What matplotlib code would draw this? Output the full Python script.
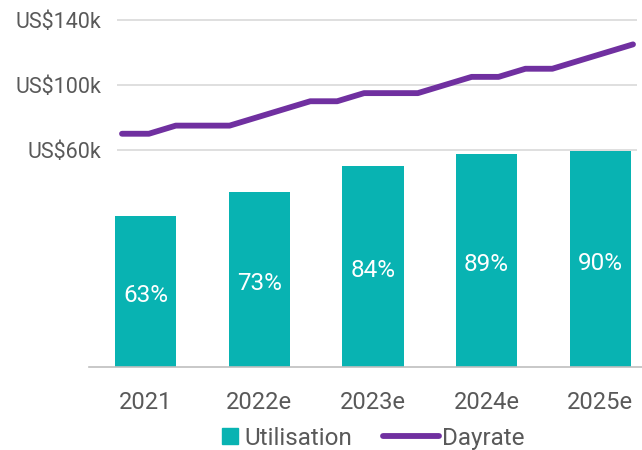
import matplotlib.pyplot as plt
from matplotlib.lines import Line2D

years = ['2021', '2022e', '2023e', '2024e', '2025e']
utilisation = [63, 73, 84, 89, 90]
# quarterly dayrate, US$k (2021 Q1 .. 2025 Q4)
dayrate = [70, 70, 75, 75, 75, 80, 85, 90, 90, 95,
           95, 95, 100, 105, 105, 110, 110, 115, 120, 125]
dayrate_ticks = [60, 100, 140]

teal = '#08B3B2'
purple = '#7030A0'
grey_text = '#595959'

plt.rcParams['font.family'] = ['Roboto', 'DejaVu Sans']

W, H = 642, 450
fig = plt.figure(figsize=(W / 100, H / 100), dpi=100)


def box(x0, x1, ytop, ybot):
    # pixel box -> figure fraction
    return [x0 / W, 1 - ybot / H, (x1 - x0) / W, (ybot - ytop) / H]


# bars (utilisation)
ax = fig.add_axes(box(89, 642, 10, 367))
bars = ax.bar(range(len(years)), utilisation, width=0.54, color=teal, zorder=2)
ax.set_xlim(-0.5, -0.5 + 553 / 113.6)
ax.set_ylim(0, 357 / 2.395)
ax.bar_label(bars, labels=[f'{v}%' for v in utilisation], label_type='center',
             color='white', fontsize=17.5, padding=-3)
ax.set_xticks(range(len(years)))
ax.set_xticklabels(years, fontsize=17, color=grey_text)
ax.tick_params(axis='x', length=0, pad=17)
ax.set_yticks([])
for s in ['top', 'right', 'left']:
    ax.spines[s].set_visible(False)
ax.spines['bottom'].set_color('#BFBFBF')
ax.spines['bottom'].set_linewidth(1.2)

# line (dayrate) on its own axes
ax2 = fig.add_axes(box(117, 637, 10, 367))
ax2.patch.set_visible(False)
ax2.plot(range(len(dayrate)), dayrate, color=purple, lw=4.2,
         solid_capstyle='round', solid_joinstyle='round', zorder=3)
ax2.set_xlim(-5 / 26.9, len(dayrate) - 1 + 4 / 26.9)
ax2.set_ylim(60 - 217 / 1.625, 140 + 10 / 1.625)
ax2.set_yticks(dayrate_ticks)
ax2.set_yticklabels([f'US${v}k' for v in dayrate_ticks], fontsize=15.5,
                    color=grey_text)
ax2.tick_params(axis='y', length=0, pad=11)
ax2.set_xticks([])
ax2.grid(axis='y', color='#D9D9D9', lw=1.2)
ax2.set_axisbelow(True)
for s in ax2.spines.values():
    s.set_visible(False)

# legend, two separate entries
util_handle = Line2D([], [], marker='s', linestyle='none', color=teal,
                     markersize=11)
day_handle = Line2D([], [], color=purple, lw=4.2, solid_capstyle='round')
fig.legend([util_handle], ['Utilisation'], loc='center', bbox_to_anchor=(0.448, 0.026),
           frameon=False, fontsize=17.5, handlelength=0.6, handletextpad=0.3,
           labelcolor=grey_text, borderpad=0)
fig.legend([day_handle], ['Dayrate'], loc='center', bbox_to_anchor=(0.707, 0.026),
           frameon=False, fontsize=17.5, handlelength=2.3, handletextpad=0.1,
           labelcolor=grey_text, borderpad=0)

fig.savefig('out.png', dpi=100)
